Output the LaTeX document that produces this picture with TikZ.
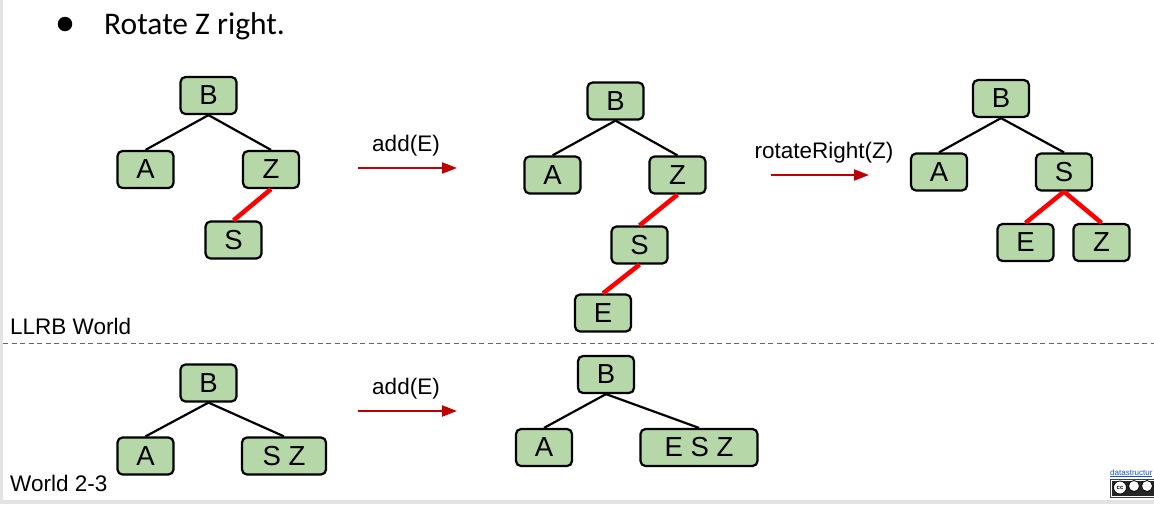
\documentclass[tikz,border=0pt]{standalone}
\usepackage{fontspec}
\setmainfont{Liberation Sans}
\newfontfamily\calib{Carlito}
\usetikzlibrary{arrows.meta}
\definecolor{nodegreen}{HTML}{B6D7A8}
\definecolor{arrred}{HTML}{C00000}
\definecolor{linkred}{HTML}{FF0000}
\definecolor{framegray}{HTML}{E3E3E3}
\definecolor{linkblue}{HTML}{1155CC}
\tikzset{
  tnode/.style={draw=black, line width=2.2pt, fill=nodegreen, rounded corners=5pt,
    minimum width=56pt, minimum height=37pt, inner sep=0pt,
    font=\fontsize{27.5}{27.5}\selectfont},
  bedge/.style={draw=black, line width=2.2pt},
  redge/.style={draw=linkred, line width=4.5pt},
  opar/.style={draw=arrred, line width=2.2pt, -{Triangle[length=15pt,width=11pt]}},
  oplabel/.style={font=\fontsize{22.5}{22.5}\selectfont, inner sep=0pt},
  worldlabel/.style={font=\fontsize{22.5}{22.5}\selectfont, inner sep=0pt, anchor=west},
}
\begin{document}
\begin{tikzpicture}[x=1pt,y=-1pt]
\useasboundingbox (0,0) rectangle (1154,504);
\fill[white] (0,0) rectangle (1154,504);
\fill[framegray] (0,0) rectangle (3,504);
\fill[framegray] (0,500) rectangle (1154,504);

% title bullet
\node[circle, fill=black, minimum size=14.5pt, inner sep=0pt] (bullet) at (65,24) {};
\node[font=\calib\fontsize{31.5}{31.5}\selectfont, anchor=base west, inner sep=0pt] (title) at (104,34) {Rotate Z right.};

% separator
\coordinate (sepL) at (3,343);
\coordinate (sepR) at (1154,343);
\draw[draw=gray!80!black, line width=1pt, dash pattern=on 5pt off 3.5pt] (sepL) -- (sepR);

\node[worldlabel] (llrb) at (10,326) {LLRB World};
\node[worldlabel] (w23) at (10,483) {World 2-3};

% tree 1
\node[tnode] (B1) at (208.5,95.5) {B};
\node[tnode] (A1) at (145.5,169.5) {A};
\node[tnode] (Z1) at (271,169.5) {Z};
\node[tnode] (S1) at (233.5,240) {S};
\draw[bedge] (B1.south) -- (A1.north);
\draw[bedge] (B1.south) -- (Z1.north);
\draw[redge] (Z1.south) -- (S1.north);

% arrow 1
\coordinate (a1s) at (358,168);
\coordinate (a1e) at (457,168);
\draw[opar] (a1s) -- (a1e);
\node[oplabel] (l1) at (406,146) {add(E)};

% tree 2
\node[tnode] (B2) at (615.5,101) {B};
\node[tnode] (A2) at (552.5,175) {A};
\node[tnode] (Z2) at (677.5,175) {Z};
\node[tnode] (S2) at (639.5,245) {S};
\node[tnode] (E2) at (603,313) {E};
\draw[bedge] (B2.south) -- (A2.north);
\draw[bedge] (B2.south) -- (Z2.north);
\draw[redge] (Z2.south) -- (S2.north);
\draw[redge] (S2.south) -- (E2.north);

% arrow 2
\coordinate (a2s) at (771,175);
\coordinate (a2e) at (869,175);
\draw[opar] (a2s) -- (a2e);
\node[oplabel] (l2) at (824,153) {rotateRight(Z)};

% tree 3
\node[tnode] (B3) at (1001,98.5) {B};
\node[tnode] (A3) at (939,172) {A};
\node[tnode] (S3) at (1064,172) {S};
\node[tnode] (E3) at (1025.5,242.5) {E};
\node[tnode] (Z3) at (1101.5,242.5) {Z};
\draw[bedge] (B3.south) -- (A3.north);
\draw[bedge] (B3.south) -- (S3.north);
\draw[redge] (S3.south) -- (E3.north);
\draw[redge] (S3.south) -- (Z3.north);

% tree 4
\node[tnode] (B4) at (208.5,383) {B};
\node[tnode] (A4) at (145.5,456) {A};
\node[tnode, minimum width=84pt] (SZ4) at (284,456) {S Z};
\draw[bedge] (B4.south) -- (A4.north);
\draw[bedge] (B4.south) -- (SZ4.north);

% arrow 3
\coordinate (a3s) at (358,411);
\coordinate (a3e) at (457,411);
\draw[opar] (a3s) -- (a3e);
\node[oplabel] (l3) at (406,389) {add(E)};

% tree 5
\node[tnode] (B5) at (606,374.5) {B};
\node[tnode] (A5) at (544,447.5) {A};
\node[tnode, minimum width=117pt] (ESZ5) at (699,447.5) {E S Z};
\draw[bedge] (B5.south) -- (A5.north);
\draw[bedge] (B5.south) -- (ESZ5.north);

% footer link and licence badge (cut off at right)
\begin{scope}
\clip (1100,460) rectangle (1154,500);
\node[font=\fontsize{8}{8}\selectfont, text=linkblue, anchor=base west, inner sep=0pt] (link) at (1110,475) {\underline{datastructur}};
\fill[black!75] (1110,479) rectangle (1160,498);
\fill[white] (1110.8,479.8) rectangle (1160,497.2);
\fill[black!85] (1112,481) rectangle (1160,496);
\node[circle, fill=white, draw=black, line width=0.8pt, minimum size=13pt, inner sep=0pt, font=\fontsize{6}{6}\selectfont\bfseries] (cc) at (1120,487.5) {cc};
\node[circle, fill=white, draw=black, line width=0.8pt, minimum size=11pt, inner sep=0pt] (by) at (1134,486) {};
\node[circle, fill=white, draw=black, line width=0.8pt, minimum size=11pt, inner sep=0pt] (nc) at (1147,486) {};
\end{scope}
\end{tikzpicture}
\end{document}
